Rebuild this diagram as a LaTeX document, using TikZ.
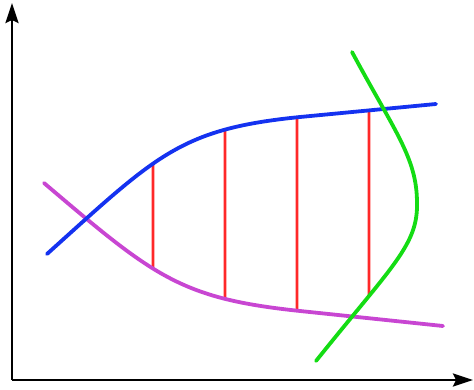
\documentclass[tikz,border=0pt]{standalone}
\usetikzlibrary{arrows.meta,intersections}
\definecolor{cblue}{RGB}{20,50,240}
\definecolor{cmag}{RGB}{200,70,210}
\definecolor{cgreen}{RGB}{20,220,20}
\definecolor{cred}{RGB}{255,40,40}
\tikzset{
  axis/.style={line width=2.8pt,-{Stealth[length=20pt,width=13pt,inset=3pt]}},
  curve/.style={line width=3.8pt,line cap=round},
  chord/.style={line width=2.7pt,cred}
}
\begin{document}
\begin{tikzpicture}[x=1pt,y=-1pt]
\useasboundingbox (0,0) rectangle (474,390);
\coordinate (o) at (12,380);
\coordinate (ytop) at (12,3);
\coordinate (xend) at (473,380);
\draw[axis] (o) -- (ytop);
\draw[axis] (o) -- (xend);
% curve paths
\path[name path=blue] (47,254) .. controls (157,155) and (180,129) .. (300,117) -- (436,104);
\path[name path=mag] (44,183) .. controls (154,276.5) and (180,298.4) .. (300,311) -- (443,326);
\path[name path=green] (352,52) .. controls (395,132) and (417,158) .. (417,203) .. controls (418,245) and (392,266) .. (316,361);
% verticals
\path[name path=v1] (153,0) -- (153,390);
\path[name path=v2] (225,0) -- (225,390);
\path[name path=v3] (297,0) -- (297,390);
\path[name path=v4] (369,0) -- (369,390);
\path[name path=v4low] (369,200) -- (369,390);
\path[name intersections={of=blue and v1,by=b1}];
\path[name intersections={of=blue and v2,by=b2}];
\path[name intersections={of=blue and v3,by=b3}];
\path[name intersections={of=blue and v4,by=b4}];
\path[name intersections={of=mag and v1,by=m1}];
\path[name intersections={of=mag and v2,by=m2}];
\path[name intersections={of=mag and v3,by=m3}];
\path[name intersections={of=green and v4low,by=g4}];
\draw[chord] (b1) -- (m1);
\draw[chord] (b2) -- (m2);
\draw[chord] (b3) -- (m3);
\draw[chord] (b4) -- (g4);
% visible curves
\draw[curve,cmag] (44,183) .. controls (154,276.5) and (180,298.4) .. (300,311) -- (443,326);
\draw[curve,cblue] (47,254) .. controls (157,155) and (180,129) .. (300,117) -- (436,104);
\draw[curve,cgreen] (352,52) .. controls (395,132) and (417,158) .. (417,203) .. controls (418,245) and (392,266) .. (316,361);
\end{tikzpicture}
\end{document}
